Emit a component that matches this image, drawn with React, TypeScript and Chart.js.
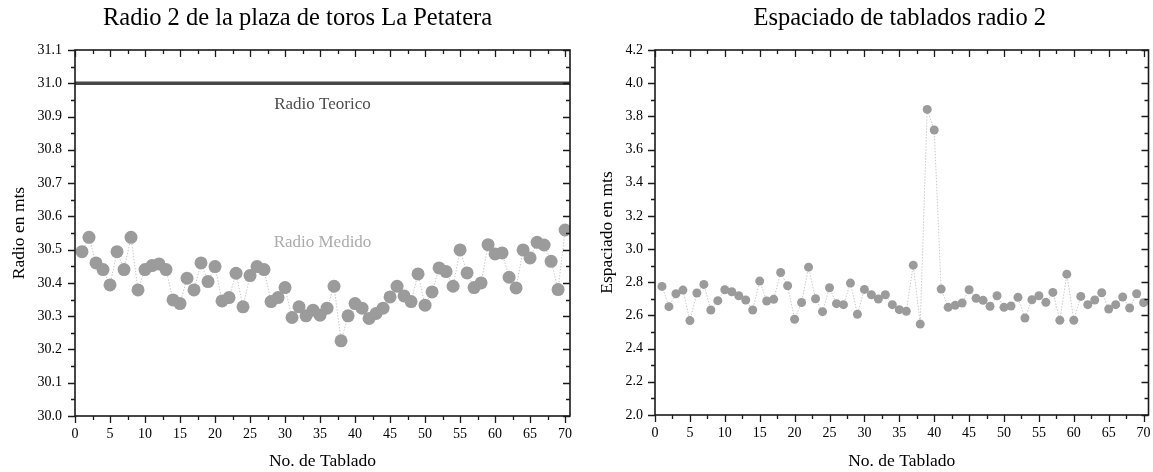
import React, { useEffect, useRef } from "react";
import { Chart, registerables } from "chart.js";

Chart.register(...registerables);

// ---------- data ----------
const tablado = [
  1, 2, 3, 4, 5, 6, 7, 8, 9, 10, 11, 12, 13, 14, 15, 16, 17, 18, 19, 20,
  21, 22, 23, 24, 25, 26, 27, 28, 29, 30, 31, 32, 33, 34, 35, 36, 37, 38, 39, 40,
  41, 42, 43, 44, 45, 46, 47, 48, 49, 50, 51, 52, 53, 54, 55, 56, 57, 58, 59, 60,
  61, 62, 63, 64, 65, 66, 67, 68, 69, 70,
];

const radioMedido = [
  30.494, 30.537, 30.46, 30.44, 30.394, 30.494, 30.44, 30.537, 30.379, 30.44,
  30.452, 30.457, 30.44, 30.349, 30.338, 30.414, 30.379, 30.46, 30.404, 30.449,
  30.346, 30.356, 30.429, 30.328, 30.422, 30.449, 30.44, 30.344, 30.356, 30.386,
  30.296, 30.328, 30.301, 30.318, 30.303, 30.324, 30.39, 30.226, 30.301, 30.338,
  30.324, 30.293, 30.308, 30.324, 30.358, 30.39, 30.361, 30.344, 30.427, 30.333,
  30.373, 30.445, 30.434, 30.39, 30.499, 30.43, 30.386, 30.4, 30.515, 30.487,
  30.49, 30.417, 30.385, 30.499, 30.475, 30.522, 30.514, 30.465, 30.38, 30.559,
];

const radioTeorico = 31.0;

const espaciado = [
  2.775, 2.653, 2.731, 2.753, 2.569, 2.735, 2.787, 2.633, 2.689, 2.755,
  2.743, 2.719, 2.693, 2.633, 2.807, 2.687, 2.697, 2.859, 2.779, 2.577,
  2.678, 2.891, 2.701, 2.623, 2.767, 2.671, 2.665, 2.795, 2.607, 2.757,
  2.725, 2.699, 2.725, 2.665, 2.635, 2.625, 2.903, 2.548, 3.842, 3.718,
  2.759, 2.649, 2.661, 2.675, 2.755, 2.703, 2.691, 2.655, 2.719, 2.649,
  2.657, 2.709, 2.585, 2.695, 2.719, 2.679, 2.739, 2.571, 2.849, 2.571,
  2.715, 2.665, 2.693, 2.737, 2.639, 2.665, 2.711, 2.645, 2.731, 2.677,
];

const xRange = [0, 70.7];
const xStep = 5;
const radioRange = [30.0, 31.1];
const radioStep = 0.1;
const espaciadoRange = [2.0, 4.2];
const espaciadoStep = 0.2;

const leftTitle = "Radio 2 de la plaza de toros La Petatera";
const rightTitle = "Espaciado de tablados radio 2";
const xTitle = "No. de Tablado";
const leftYTitle = "Radio en mts";
const rightYTitle = "Espaciado en mts";
const labelTeorico = "Radio Teorico";
const labelMedido = "Radio Medido";

// ---------- plugins ----------
const FONT = "'Liberation Serif', 'Times New Roman', serif";

const framePlugin = {
  id: "frameTicks",
  afterDatasetsDraw(chart: any) {
    const { ctx, chartArea: a, scales } = chart;
    const xs = scales.x;
    const ys = scales.y;
    ctx.save();
    ctx.strokeStyle = "#1a1a1a";
    ctx.lineWidth = 1.6;
    ctx.strokeRect(a.left, a.top, a.right - a.left, a.bottom - a.top);

    const majorsX = xs.ticks.map((t: any) => t.value);
    const majorsY = ys.ticks.map((t: any) => t.value);
    const mids = (arr: number[]) => {
      const out: number[] = [];
      for (let i = 0; i < arr.length - 1; i++) out.push((arr[i] + arr[i + 1]) / 2);
      return out;
    };
    const minorsX = mids(majorsX);
    const minorsY = mids(majorsY);
    const MAJ = 7;
    const MIN = 4;
    ctx.lineWidth = 1.3;
    ctx.beginPath();
    const vx = (vals: number[], len: number) => {
      vals.forEach((v) => {
        const p = Math.round(xs.getPixelForValue(v)) + 0.5;
        if (p < a.left - 1 || p > a.right + 1) return;
        ctx.moveTo(p, a.bottom);
        ctx.lineTo(p, a.bottom + len);
        ctx.moveTo(p, a.top);
        ctx.lineTo(p, a.top + len);
      });
    };
    const vy = (vals: number[], len: number) => {
      vals.forEach((v) => {
        const p = Math.round(ys.getPixelForValue(v)) + 0.5;
        if (p < a.top - 1 || p > a.bottom + 1) return;
        ctx.moveTo(a.left, p);
        ctx.lineTo(a.left - len, p);
        ctx.moveTo(a.right, p);
        ctx.lineTo(a.right - len, p);
      });
    };
    vx(majorsX, MAJ);
    vx(minorsX, MIN);
    vy(majorsY, MAJ);
    vy(minorsY, MIN);
    ctx.stroke();
    ctx.restore();
  },
};

const headerPlugin = {
  id: "header",
  afterDraw(chart: any, _args: any, opts: any) {
    if (!opts || !opts.text) return;
    const { ctx, chartArea: a } = chart;
    ctx.save();
    ctx.font = `${opts.size}px ${FONT}`;
    ctx.fillStyle = "#000";
    ctx.textAlign = "center";
    ctx.textBaseline = "middle";
    ctx.fillText(opts.text, (a.left + a.right) / 2 + (opts.dx || 0), opts.y);
    ctx.restore();
  },
};

const notesPlugin = {
  id: "notes",
  afterDatasetsDraw(chart: any, _args: any, opts: any) {
    if (!opts || !opts.items) return;
    const { ctx, chartArea: a, scales } = chart;
    ctx.save();
    ctx.textAlign = "center";
    ctx.textBaseline = "middle";
    opts.items.forEach((it: any) => {
      ctx.font = `${it.size}px ${FONT}`;
      ctx.fillStyle = it.color;
      ctx.fillText(it.text, (a.left + a.right) / 2, scales.y.getPixelForValue(it.y));
    });
    ctx.restore();
  },
};

function makeOptions(cfg: any) {
  return {
    responsive: false,
    animation: false,
    events: [],
    layout: { padding: { top: 50, left: 0, right: cfg.padRight, bottom: 0 } },
    plugins: {
      legend: { display: false },
      tooltip: { enabled: false },
      title: { display: false },
      header: { text: cfg.title, size: 24.5, y: 19, dx: cfg.titleDx || 0 },
      notes: { items: cfg.notes || [] },
    },
    scales: {
      x: {
        type: "linear",
        min: xRange[0],
        max: xRange[1],
        grid: { display: false, drawTicks: false },
        border: { display: false },
        ticks: {
          stepSize: xStep,
          includeBounds: false,
          padding: 10,
          color: "#000",
          font: { family: FONT, size: 14 },
          maxRotation: 0,
        },
        title: {
          display: true,
          text: xTitle,
          color: "#000",
          font: { family: FONT, size: 17.5 },
          padding: { top: 0, bottom: 0 },
        },
        afterFit: (s: any) => {
          s.height = cfg.xHeight;
          s.paddingLeft = 0;
          s.paddingRight = 0;
        },
      },
      y: {
        type: "linear",
        min: cfg.yRange[0],
        max: cfg.yRange[1],
        grid: { display: false, drawTicks: false },
        border: { display: false },
        ticks: {
          stepSize: cfg.yStep,
          includeBounds: false,
          padding: cfg.yPad,
          color: "#000",
          font: { family: FONT, size: 14 },
          callback: (v: any) => Number(v).toFixed(1),
        },
        title: {
          display: true,
          text: cfg.yTitle,
          color: "#000",
          font: { family: FONT, size: 17.5 },
          padding: { top: cfg.yTitlePad, bottom: 0 },
        },
        afterFit: (s: any) => {
          s.width = cfg.yWidth;
          s.paddingTop = 0;
          s.paddingBottom = 0;
        },
      },
    },
  };
}

function pts(ys: number[]) {
  return tablado.map((t, i) => ({ x: t, y: ys[i] }));
}

export default function App() {
  const leftRef = useRef<HTMLCanvasElement | null>(null);
  const rightRef = useRef<HTMLCanvasElement | null>(null);

  useEffect(() => {
    const left = new Chart(leftRef.current as HTMLCanvasElement, {
      type: "scatter",
      data: {
        datasets: [
          {
            label: labelTeorico,
            data: [
              { x: xRange[0], y: radioTeorico },
              { x: xRange[1], y: radioTeorico },
            ],
            showLine: true,
            borderColor: "#474747",
            borderWidth: 3.5,
            pointRadius: 0,
          },
          {
            label: labelMedido,
            data: pts(radioMedido),
            showLine: true,
            borderColor: "#c9c9c9",
            borderWidth: 1,
            borderDash: [1.5, 1.5],
            pointRadius: 6.5,
            pointBackgroundColor: "#9b9b9b",
            pointBorderWidth: 0,
          },
        ],
      },
      options: makeOptions({
        title: leftTitle,
        titleDx: -25,
        padRight: 8,
        xHeight: 56,
        yRange: radioRange,
        yStep: radioStep,
        yPad: 13,
        yTitle: leftYTitle,
        yTitlePad: 9,
        yWidth: 75,
        notes: [
          { text: labelTeorico, y: 30.935, color: "#4d4d4d", size: 17 },
          { text: labelMedido, y: 30.52, color: "#ababab", size: 17 },
        ],
      }) as any,
      plugins: [framePlugin, headerPlugin, notesPlugin],
    });

    const right = new Chart(rightRef.current as HTMLCanvasElement, {
      type: "scatter",
      data: {
        datasets: [
          {
            label: rightYTitle,
            data: pts(espaciado),
            showLine: true,
            borderColor: "#c9c9c9",
            borderWidth: 1,
            borderDash: [1.5, 1.5],
            pointRadius: 4.5,
            pointBackgroundColor: "#9b9b9b",
            pointBorderWidth: 0,
          },
        ],
      },
      options: makeOptions({
        title: rightTitle,
        titleDx: -2,
        padRight: 3,
        xHeight: 57,
        yRange: espaciadoRange,
        yStep: espaciadoStep,
        yPad: 12,
        yTitle: rightYTitle,
        yTitlePad: 19,
        yWidth: 77,
      }) as any,
      plugins: [framePlugin, headerPlugin, notesPlugin],
    });

    return () => {
      left.destroy();
      right.destroy();
    };
  }, []);

  return (
    <div
      style={{
        position: "fixed",
        left: 0,
        top: 0,
        width: 1153,
        height: 472,
        background: "#fff",
      }}
    >
      <canvas
        ref={leftRef}
        width={578}
        height={472}
        style={{ position: "absolute", left: 0, top: 0, width: 578, height: 472 }}
      />
      <canvas
        ref={rightRef}
        width={575}
        height={472}
        style={{ position: "absolute", left: 578, top: 0, width: 575, height: 472 }}
      />
    </div>
  );
}
